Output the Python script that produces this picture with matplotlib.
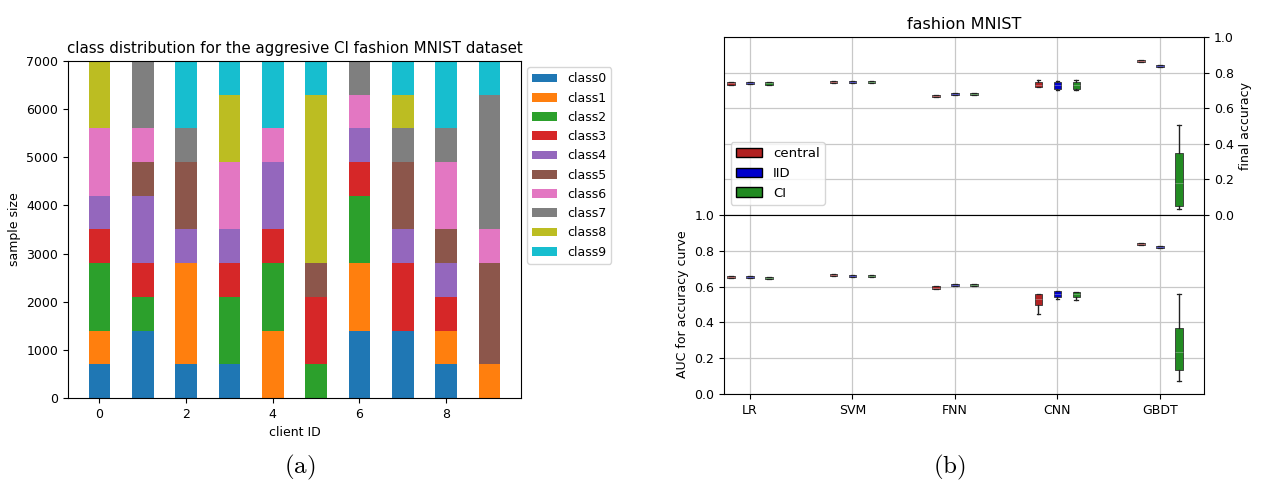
import matplotlib
matplotlib.use("Agg")
import matplotlib.pyplot as plt
import matplotlib.patches as mpatches
import numpy as np

# ---------------- data: (a) stacked class distribution ----------------
clients = list(range(10))
class_names = ["class0", "class1", "class2", "class3", "class4",
               "class5", "class6", "class7", "class8", "class9"]
class0 = [700, 1400, 700, 700, 0, 0, 1400, 1400, 700, 0]
class1 = [700, 0, 2100, 0, 1400, 0, 1400, 0, 700, 700]
class2 = [1400, 700, 0, 1400, 1400, 700, 1400, 0, 0, 0]
class3 = [700, 700, 0, 700, 700, 1400, 700, 1400, 700, 0]
class4 = [700, 1400, 700, 700, 1400, 0, 700, 700, 700, 0]
class5 = [0, 700, 1400, 0, 0, 700, 0, 1400, 700, 2100]
class6 = [1400, 700, 0, 1400, 700, 0, 700, 0, 1400, 700]
class7 = [0, 1400, 700, 0, 0, 0, 700, 700, 700, 2800]
class8 = [1400, 0, 0, 1400, 0, 3500, 0, 700, 0, 0]
class9 = [0, 0, 1400, 700, 1400, 700, 0, 700, 1400, 700]
class_counts = [class0, class1, class2, class3, class4,
                class5, class6, class7, class8, class9]

# ---------------- data: (b) box statistics (whislo, q1, med, q3, whishi) ----------------
models = ["LR", "SVM", "FNN", "CNN", "GBDT"]
methods = ["central", "IID", "CI"]
method_colors = ["firebrick", "mediumblue", "forestgreen"]

acc_central = [(0.733, 0.733, 0.739, 0.745, 0.745),
               (0.743, 0.743, 0.749, 0.755, 0.755),
               (0.662, 0.662, 0.668, 0.674, 0.674),
               (0.717, 0.717, 0.730, 0.745, 0.758),
               (0.861, 0.861, 0.867, 0.873, 0.873)]
acc_iid = [(0.734, 0.734, 0.740, 0.746, 0.746),
           (0.743, 0.743, 0.749, 0.755, 0.755),
           (0.672, 0.672, 0.678, 0.684, 0.684),
           (0.704, 0.706, 0.730, 0.749, 0.753),
           (0.833, 0.833, 0.839, 0.845, 0.845)]
acc_ci = [(0.731, 0.732, 0.739, 0.746, 0.747),
          (0.743, 0.743, 0.749, 0.755, 0.755),
          (0.672, 0.672, 0.678, 0.684, 0.684),
          (0.705, 0.708, 0.730, 0.745, 0.758),
          (0.034, 0.052, 0.180, 0.350, 0.507)]

auc_central = [(0.649, 0.649, 0.655, 0.661, 0.661),
               (0.657, 0.657, 0.663, 0.669, 0.669),
               (0.589, 0.589, 0.595, 0.601, 0.601),
               (0.447, 0.497, 0.530, 0.559, 0.559),
               (0.830, 0.830, 0.836, 0.842, 0.842)]
auc_iid = [(0.649, 0.649, 0.655, 0.661, 0.661),
           (0.655, 0.655, 0.661, 0.667, 0.667),
           (0.601, 0.601, 0.607, 0.613, 0.613),
           (0.529, 0.540, 0.560, 0.575, 0.575),
           (0.814, 0.814, 0.820, 0.826, 0.826)]
auc_ci = [(0.643, 0.643, 0.649, 0.655, 0.655),
          (0.655, 0.655, 0.661, 0.667, 0.667),
          (0.601, 0.601, 0.607, 0.613, 0.613),
          (0.527, 0.540, 0.560, 0.571, 0.571),
          (0.074, 0.134, 0.235, 0.370, 0.559)]

# ---------------- figure ----------------
fig = plt.figure(figsize=(12.63, 4.90), dpi=100)
FS = 9
TFS = 10.8

# (a)
ax = fig.add_axes([0.0538, 0.1878, 0.3587, 0.6877])
tab = plt.get_cmap("tab10").colors
bottom = np.zeros(len(clients))
for i, (name, vals) in enumerate(zip(class_names, class_counts)):
    ax.bar(clients, vals, width=0.5, bottom=bottom, color=tab[i], label=name)
    bottom += np.array(vals)
ax.set_ylim(0, 7000)
ax.set_title("class distribution for the aggresive CI fashion MNIST dataset", fontsize=TFS)
ax.set_xlabel("client ID", fontsize=FS)
ax.set_ylabel("sample size", fontsize=FS)
ax.tick_params(labelsize=FS)
ax.legend(loc="upper left", bbox_to_anchor=(1.0, 1.0), fontsize=FS)

# (b)
width = 0.075
offsets = [-0.185, 0.0, 0.185]
pos_models = np.arange(len(models))

def draw_boxes(axb, stat_sets):
    for k, stats in enumerate(stat_sets):
        bx = []
        for s in stats:
            bx.append(dict(whislo=s[0], q1=s[1], med=s[2], q3=s[3], whishi=s[4], fliers=[]))
        axb.bxp(bx, positions=pos_models + offsets[k], widths=width,
                patch_artist=True, showfliers=False, manage_ticks=False,
                boxprops=dict(facecolor=method_colors[k], edgecolor="#333333", linewidth=0.6),
                medianprops=dict(color="#cfcfcf", linewidth=0.4, alpha=0.7),
                whiskerprops=dict(color="#222222", linewidth=1.0),
                capprops=dict(color="#222222", linewidth=0.9))

ax_top = fig.add_axes([0.5732, 0.5612, 0.3801, 0.3633])
ax_bot = fig.add_axes([0.5732, 0.1959, 0.3801, 0.3653])

draw_boxes(ax_top, [acc_central, acc_iid, acc_ci])
draw_boxes(ax_bot, [auc_central, auc_iid, auc_ci])

for a in (ax_top, ax_bot):
    a.set_xlim(-0.254, 4.43)
    a.set_ylim(0, 1.0)
    a.set_xticks(pos_models)
    a.grid(True, color="#c8c8c8", linewidth=0.9)
    a.set_axisbelow(True)
    a.tick_params(labelsize=FS)
    a.set_yticks([0.0, 0.2, 0.4, 0.6, 0.8, 1.0])

ax_top.set_xticklabels([])
ax_top.tick_params(axis="x", length=0)
ax_top.yaxis.tick_right()
ax_top.yaxis.set_label_position("right")
ax_top.set_ylabel("final accuracy", fontsize=FS)
ax_top.set_title("fashion MNIST", fontsize=11.5)

ax_bot.set_xticklabels(models)
ax_bot.set_ylabel("AUC for accuracy curve", fontsize=FS)

handles = [mpatches.Patch(facecolor=c, edgecolor="black", label=m)
           for m, c in zip(methods, method_colors)]
ax_top.legend(handles=handles, loc="lower left", bbox_to_anchor=(0.0, 0.02), fontsize=9.5)

# captions
plt.rcParams["mathtext.fontset"] = "cm"
fig.text(0.2375, 0.045, r"$(\mathrm{a})$", fontsize=18, ha="center", va="center")
fig.text(0.752, 0.045, r"$(\mathrm{b})$", fontsize=18, ha="center", va="center")

fig.savefig("out.png", dpi=100)
